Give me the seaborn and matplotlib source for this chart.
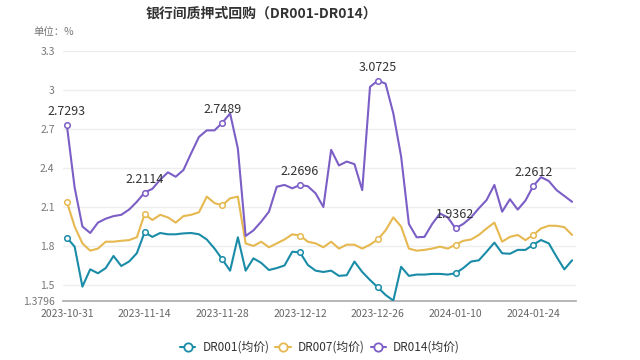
import pandas as pd
import numpy as np
import matplotlib
matplotlib.use("Agg")
import matplotlib.pyplot as plt
import seaborn as sns
from matplotlib.lines import Line2D

# trading days 2023-10-31 .. 2024-01-31 (New Year holiday removed)
dates = [d for d in pd.bdate_range("2023-10-31", "2024-01-31") if d != pd.Timestamp("2024-01-01")]
date_labels = [d.strftime("%Y-%m-%d") for d in dates]

dr001 = [1.864, 1.795, 1.487, 1.62, 1.59, 1.63, 1.723, 1.646, 1.68, 1.744,
         1.905, 1.87, 1.90, 1.89, 1.89, 1.897, 1.90, 1.89, 1.85, 1.78,
         1.697, 1.61, 1.867, 1.61, 1.705, 1.67, 1.615, 1.63, 1.65, 1.756,
         1.75, 1.654, 1.61, 1.60, 1.61, 1.57, 1.575, 1.68, 1.60, 1.538,
         1.482, 1.423, 1.3796, 1.64, 1.57, 1.58, 1.58, 1.585, 1.585, 1.58,
         1.59, 1.63, 1.68, 1.69, 1.756, 1.826, 1.744, 1.74, 1.77, 1.77,
         1.81, 1.846, 1.82, 1.717, 1.62, 1.69]
dr007 = [2.14, 1.95, 1.82, 1.764, 1.78, 1.833, 1.833, 1.84, 1.845, 1.867,
         2.044, 2.0, 2.04, 2.02, 1.98, 2.03, 2.04, 2.06, 2.18, 2.13,
         2.113, 2.167, 2.18, 1.82, 1.80, 1.833, 1.79, 1.82, 1.85, 1.89,
         1.88, 1.833, 1.82, 1.79, 1.833, 1.78, 1.81, 1.81, 1.78, 1.81,
         1.85, 1.92, 2.02, 1.95, 1.78, 1.764, 1.77, 1.78, 1.795, 1.78,
         1.81, 1.84, 1.85, 1.885, 1.935, 1.98, 1.833, 1.87, 1.885, 1.845,
         1.885, 1.935, 1.956, 1.955, 1.945, 1.885]
dr014 = [2.7293, 2.25, 1.95, 1.90, 1.98, 2.01, 2.03, 2.04, 2.08, 2.14,
         2.2114, 2.24, 2.31, 2.367, 2.333, 2.385, 2.515, 2.64, 2.69, 2.69,
         2.7489, 2.82, 2.55, 1.877, 1.92, 1.987, 2.064, 2.256, 2.27, 2.244,
         2.2696, 2.26, 2.205, 2.10, 2.54, 2.42, 2.45, 2.43, 2.23, 3.025,
         3.0725, 3.05, 2.82, 2.49, 1.97, 1.867, 1.87, 1.97, 2.05, 2.02,
         1.9362, 1.97, 2.02, 2.09, 2.154, 2.27, 2.064, 2.16, 2.08, 2.15,
         2.2612, 2.33, 2.30, 2.23, 2.185, 2.14]

series_names = ["DR001(均价)", "DR007(均价)", "DR014(均价)"]
series_colors = ["#1a8ca8", "#e6b850", "#7b5ec6"]
mark_idx = [0, 10, 20, 30, 40, 50, 60]
yticks = [1.3796, 1.5, 1.8, 2.1, 2.4, 2.7, 3.0, 3.3]
ytick_labels = ["1.3796", "1.5", "1.8", "2.1", "2.4", "2.7", "3", "3.3"]

sns.set_style("white")
plt.rcParams["font.family"] = ["Noto Sans CJK SC", "DejaVu Sans"]

fig = plt.figure(figsize=(6.4, 3.6), dpi=100)
ax = fig.add_axes([0.0984, 0.165, 0.8016, 0.693])

idx = np.arange(len(dates))
for name, vals, col in zip(series_names, [dr001, dr007, dr014], series_colors):
    df = pd.DataFrame({"i": idx, "v": vals})
    sns.lineplot(data=df, x="i", y="v", color=col, linewidth=1.5, ax=ax, zorder=3)
    sub = df.iloc[mark_idx]
    ax.plot(sub["i"], sub["v"], linestyle="none", marker="o", markersize=4,
            markerfacecolor="white", markeredgecolor=col, markeredgewidth=1.1, zorder=4)

for i in mark_idx:
    ax.annotate(f"{dr014[i]:.4f}", (i, dr014[i]), xytext=(0, 5), textcoords="offset points",
                ha="center", va="bottom", fontsize=9, color="#333333", zorder=5)

ax.set_xlim(-0.5, len(dates) - 0.5)
ax.set_ylim(1.3796, 3.3)
ax.set_yticks(yticks)
ax.set_yticklabels(ytick_labels)
for y in yticks[1:]:
    ax.axhline(y, color="#eeeeee", linewidth=1, zorder=1)

ax.set_xticks(mark_idx)
ax.set_xticklabels([date_labels[i] for i in mark_idx])
ax.set_xticks([i - 0.5 for i in mark_idx] + [len(dates) - 0.5], minor=True)
ax.tick_params(axis="x", which="major", length=0, pad=6, labelsize=7.5, labelcolor="#666666")
ax.tick_params(axis="x", which="minor", length=4, color="#aaaaaa", width=1)
ax.tick_params(axis="y", length=0, pad=6, labelsize=7.5, labelcolor="#777777")
ax.set_xlabel("")
ax.set_ylabel("")
for s in ["left", "right", "top"]:
    ax.spines[s].set_visible(False)
ax.spines["bottom"].set_color("#aaaaaa")
ax.spines["bottom"].set_linewidth(1.2)

fig.text(0.408, 0.962, "银行间质押式回购（DR001-DR014）", ha="center", va="center",
         fontsize=10, fontweight="bold", color="#333333")
fig.text(0.052, 0.912, "单位：%", ha="left", va="center", fontsize=7.5, color="#777777")

handles = [Line2D([0], [0], color=c, linewidth=1.5, marker="o", markersize=6,
                  markerfacecolor="white", markeredgecolor=c, markeredgewidth=1.3)
           for c in series_colors]
fig.legend(handles, series_names, loc="center", bbox_to_anchor=(0.5, 0.035), ncol=3,
           frameon=False, fontsize=8.5, handlelength=1.3, handletextpad=0.6,
           columnspacing=0.5, labelcolor="#333333")

fig.savefig("out.png", dpi=100)
